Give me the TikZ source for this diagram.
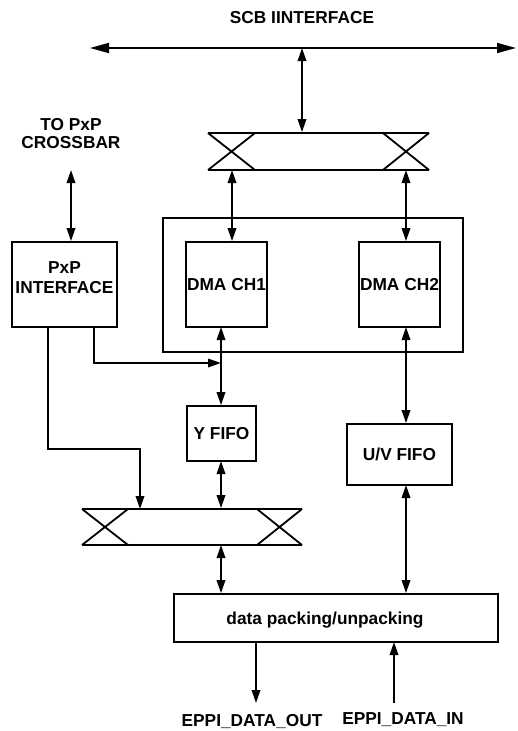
\documentclass[tikz,border=0pt]{standalone}
\usepackage{fontspec}
\setmainfont{Liberation Sans}
\usetikzlibrary{arrows.meta,calc}
\begin{document}
\begin{tikzpicture}[x=1pt,y=-1pt,line width=1.8pt,
  every node/.style={font=\fontsize{17.3}{19}\selectfont\bfseries},
  box/.style={draw,inner sep=1pt,align=center},
  lbl/.style={inner sep=0pt,align=center},
  tip/.style={-{Triangle[length=13pt,width=8.5pt]}},
  dtip/.style={{Triangle[length=13pt,width=8.5pt]}-{Triangle[length=13pt,width=8.5pt]}},
  bustip/.style={{Triangle[length=19pt,width=10pt]}-{Triangle[length=19pt,width=10pt]}}]
\useasboundingbox (0,0) rectangle (517,731);

% title and bus
\node[lbl] (scb) at (302,18) {SCB IINTERFACE};
\coordinate (busL) at (90,48);
\coordinate (busR) at (516,48);
\coordinate (busJ) at (302,48);
\draw[bustip] (busL) -- (busR);

% top crossbar
\node[minimum width=221pt,minimum height=37pt,inner sep=0pt] (mux1) at (318.5,151.5) {};
\draw (208,133) -- (429,133) (208,170) -- (429,170)
      (208,133) -- (255,170) (255,133) -- (208,170)
      (383,133) -- (429,170) (429,133) -- (383,170);
\draw[dtip] (busJ) -- (busJ |- mux1.north);

% container and DMA channels
\node[draw,minimum width=300pt,minimum height=134pt] (dmabox) at (313,285) {};
\node[box,minimum width=81pt,minimum height=85pt] (dma1) at (226.5,284.5) {DMA CH1};
\node[box,minimum width=81pt,minimum height=85pt] (dma2) at (399.5,284.5) {DMA CH2};
\coordinate (c1) at (232,170);
\coordinate (c2) at (406,170);
\draw[dtip] (c1) -- (c1 |- dma1.north);
\draw[dtip] (c2) -- (c2 |- dma2.north);

% PxP interface
\node[lbl] (cross) at (71,134) {TO PxP\\[-1pt]CROSSBAR};
\node[box,minimum width=105pt,minimum height=85pt] (pxp) at (64.5,284.5) {PxP\\[1pt]INTERFACE\\[-6pt]};
\coordinate (cp) at (71,170);
\draw[dtip] (cp) -- (cp |- pxp.north);

% FIFOs
\node[box,minimum width=69pt,minimum height=55pt] (yfifo) at (221.5,433.5) {Y FIFO};
\node[box,minimum width=105pt,minimum height=61pt] (uvfifo) at (399.5,454.5) {U/V FIFO};

% lower crossbar
\node[minimum width=220pt,minimum height=36pt,inner sep=0pt] (mux2) at (192,527) {};
\draw (82,509) -- (302,509) (82,545) -- (302,545)
      (82,509) -- (128,545) (128,509) -- (82,545)
      (257,509) -- (302,545) (302,509) -- (257,545);

% packing
\node[draw,minimum width=324pt,minimum height=48pt] (pack) at (336,618) {};
\node[lbl] (packlbl) at (325,620) {data packing/unpacking};

% vertical connections
\coordinate (y1) at (221,327);
\draw[dtip] (y1) -- (y1 |- yfifo.north);
\coordinate (y2) at (221,461);
\draw[dtip] (y2) -- (y2 |- mux2.north);
\coordinate (y3) at (221,545);
\draw[dtip] (y3) -- (y3 |- pack.north);
\coordinate (u1) at (406,327);
\draw[dtip] (u1) -- (u1 |- uvfifo.north);
\coordinate (u2) at (406,485);
\draw[dtip] (u2) -- (u2 |- pack.north);

% PxP outputs
\coordinate (p1) at (94,327);
\coordinate (p1e) at (221,363);
\draw[tip] (p1) |- (p1e);
\coordinate (p2) at (48,327);
\coordinate (p2e) at (140,509);
\coordinate (p2m) at (140,449);
\draw[tip] (p2) |- (p2m) -- (p2e);

% EPPI
\coordinate (o1) at (256,642);
\coordinate (o2) at (256,703);
\draw[tip] (o1) -- (o2);
\node[lbl] (out) at (252,722) {EPPI\_DATA\_OUT};
\coordinate (i1) at (394,703);
\coordinate (i2) at (394,642);
\draw[tip] (i1) -- (i2);
\node[lbl] (in) at (403,720) {EPPI\_DATA\_IN};
\end{tikzpicture}
\end{document}
